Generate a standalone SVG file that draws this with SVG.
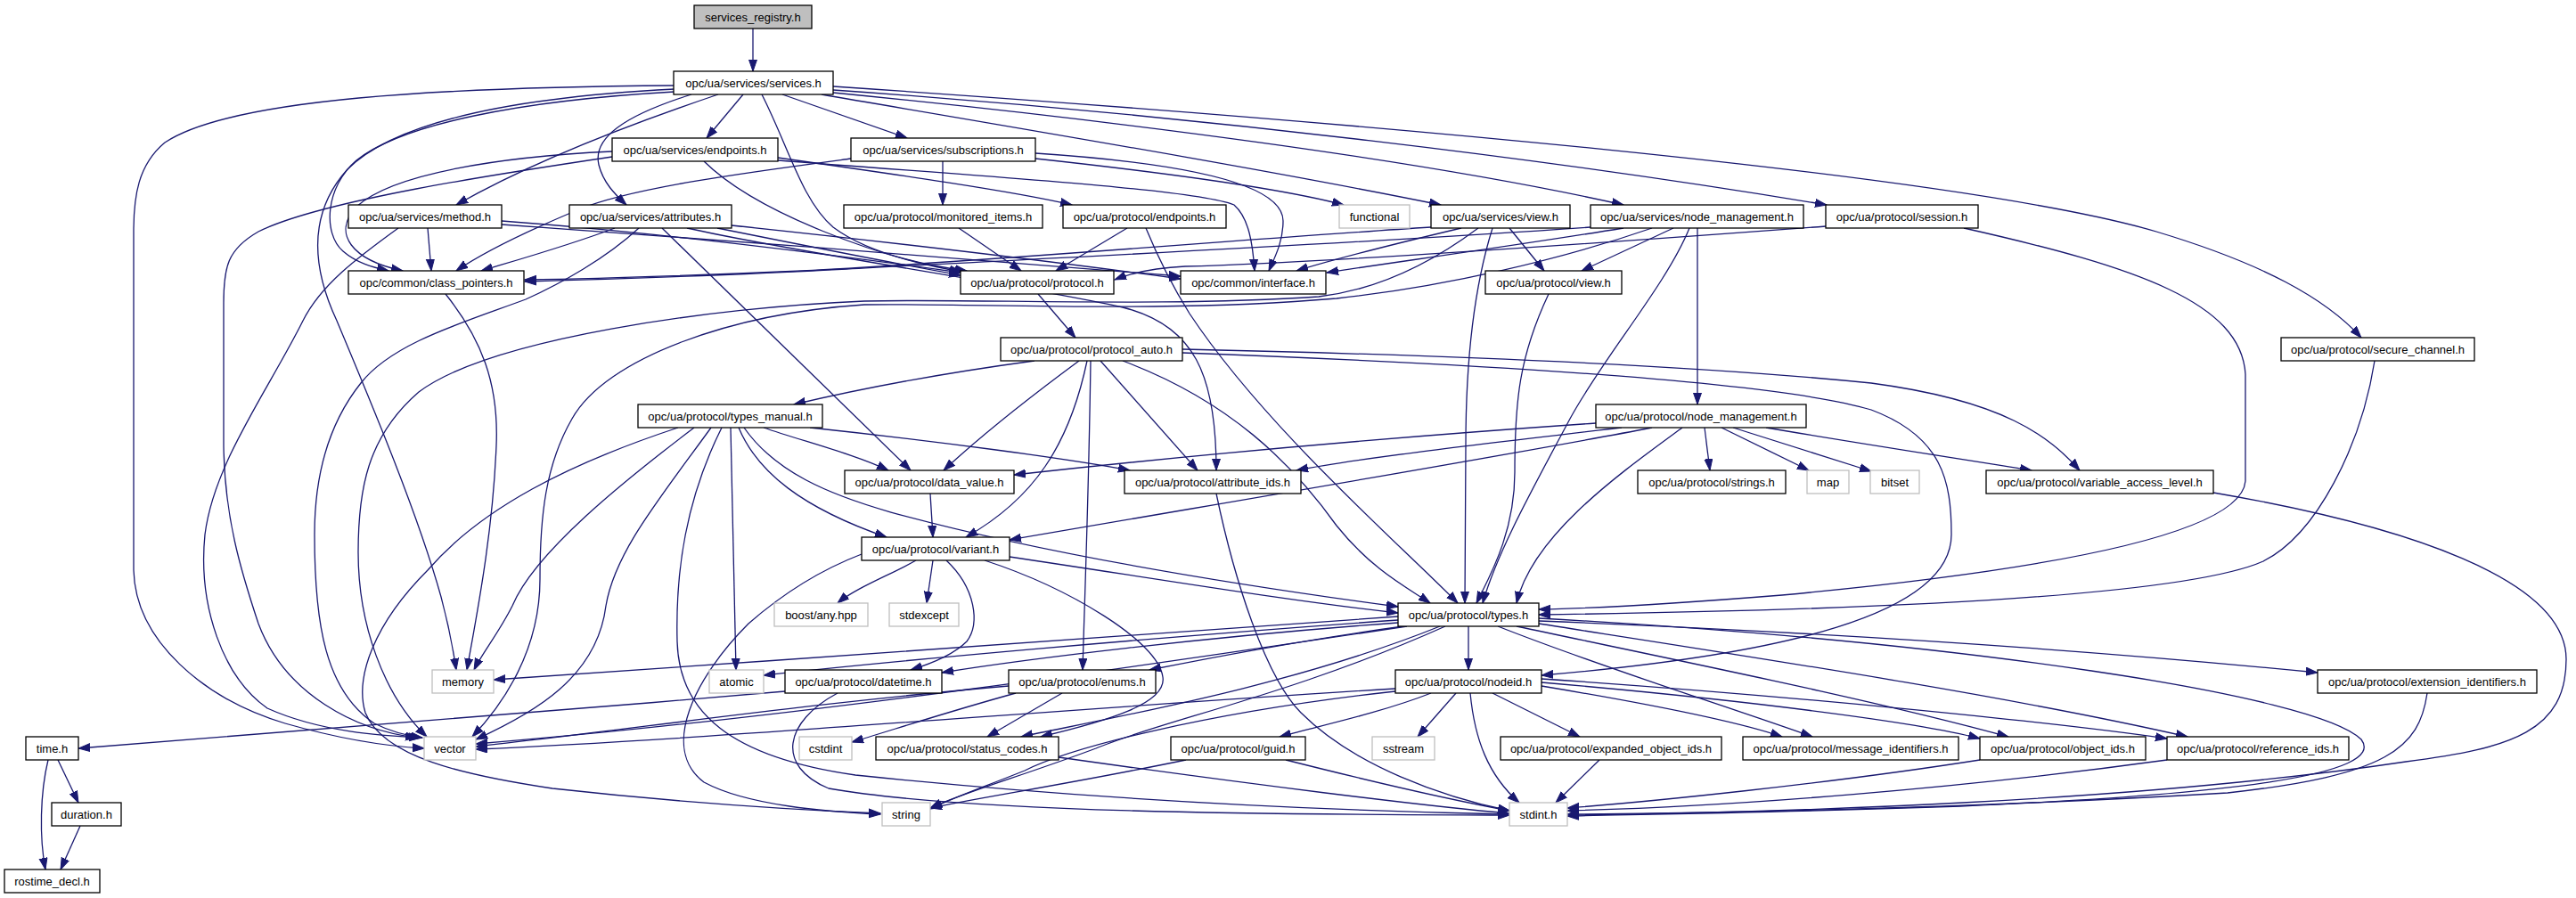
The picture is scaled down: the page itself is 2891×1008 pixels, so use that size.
<svg xmlns="http://www.w3.org/2000/svg" width="2891" height="1008" viewBox="0 0 2891 1008">
<defs>
<style>
.n rect{fill:#fff;stroke:#000;stroke-width:1.3}
.g rect{fill:#fff;stroke:#bfbfbf;stroke-width:1.3}
.r rect{fill:#bfbfbf;stroke:#000;stroke-width:1.3}
text{font-family:"Liberation Sans",Arial,Helvetica,sans-serif;font-size:13px;fill:#000;text-anchor:middle}
#edges path{fill:none;stroke:#191970;stroke-width:1.3;marker-end:url(#a)}
</style>
<marker id="a" markerUnits="userSpaceOnUse" markerWidth="14" markerHeight="11" refX="13" refY="5" orient="auto" viewBox="0 0 14 11"><path d="M0,0.5 L13,5 L0,9.5 z" fill="#191970" stroke="#191970" stroke-width="1"/></marker>
</defs>
<rect width="2891" height="1008" fill="#fff"/>
<g id="edges">
<path d="M845,32 L845,80"/>
<path d="M834,106 L793,155"/>
<path d="M878,106 L1018,155"/>
<path d="M806,106 C720,135 600,180 512,230"/>
<path d="M776,106 C700,130 665,155 672,185 C677,205 690,218 703,230"/>
<path d="M757,103 C580,113 450,140 400,180 C365,210 362,262 385,282 C400,295 418,300 436,304"/>
<path d="M757,100 C560,110 440,140 390,190 C345,240 350,300 378,360 C420,460 470,580 495,670 C503,700 508,725 512,752"/>
<path d="M757,96 C500,98 260,110 185,160 C155,185 150,220 150,260 L150,640 C152,720 230,785 320,812 C390,832 440,838 476,840"/>
<path d="M855,106 C885,165 900,225 935,255 C975,285 1040,298 1085,304"/>
<path d="M922,106 C1150,145 1420,190 1617,230"/>
<path d="M935,104 C1250,135 1600,180 1822,230"/>
<path d="M935,101 C1350,130 1750,180 2050,230"/>
<path d="M935,97 C1500,135 2200,195 2420,260 C2540,296 2610,335 2650,379"/>
<path d="M873,177 C1000,195 1140,215 1203,230"/>
<path d="M687,170 C560,176 440,195 400,232 C372,262 395,292 452,304"/>
<path d="M687,176 C560,195 360,225 290,260 C255,280 251,300 251,340 L251,500 C252,580 270,640 290,700 C320,780 400,820 468,828"/>
<path d="M790,181 C850,240 990,290 1079,305"/>
<path d="M873,180 C1100,198 1340,212 1385,230 C1402,245 1406,275 1408,304"/>
<path d="M1058,181 L1058,230"/>
<path d="M1162,178 C1300,193 1440,212 1508,230"/>
<path d="M955,178 C850,192 710,210 650,235 C590,260 540,285 512,304"/>
<path d="M1162,172 C1360,185 1440,212 1440,248 C1440,272 1430,290 1424,304"/>
<path d="M480,256 L484,304"/>
<path d="M447,256 C400,290 360,320 340,360 C300,440 240,520 230,600 C222,680 250,760 300,795 C360,822 430,826 472,828"/>
<path d="M563,248 C750,262 950,288 1078,306"/>
<path d="M563,252 C800,268 1100,292 1325,310"/>
<path d="M690,256 C640,275 580,292 540,304"/>
<path d="M717,256 C680,290 630,318 590,336 C520,362 440,385 405,430 C365,480 353,540 353,600 C353,700 365,775 420,812 C440,822 458,826 474,828"/>
<path d="M805,256 C900,275 1000,295 1078,309"/>
<path d="M821,253 C1000,272 1200,296 1325,313"/>
<path d="M743,256 L1022,528"/>
<path d="M771,256 C900,285 1150,320 1260,345 C1340,365 1365,420 1365,528"/>
<path d="M1076,256 L1146,304"/>
<path d="M1265,256 L1185,304"/>
<path d="M1286,256 C1300,290 1315,320 1335,352 C1420,480 1570,610 1636,677"/>
<path d="M1640,256 C1560,275 1500,290 1455,304"/>
<path d="M1606,255 C1400,268 1100,294 900,304 C760,310 650,313 589,314"/>
<path d="M1694,256 L1733,304"/>
<path d="M1675,256 C1655,320 1645,400 1645,500 C1645,580 1644,640 1644,677"/>
<path d="M1659,256 C1600,300 1540,326 1480,333 C1300,345 1100,335 970,338 C800,345 550,380 470,440 C412,490 402,550 402,620 C402,700 430,780 479,827"/>
<path d="M1822,256 C1700,276 1560,295 1489,306"/>
<path d="M1785,255 C1500,275 1150,291 950,302 C800,310 660,314 589,316"/>
<path d="M1878,256 L1775,304"/>
<path d="M1896,256 C1870,320 1800,400 1762,470 C1722,545 1680,620 1664,677"/>
<path d="M1905,256 L1905,454"/>
<path d="M1854,256 C1750,292 1620,322 1500,335 C1300,352 1100,340 970,342 C820,352 680,402 642,470 C612,522 606,580 606,650 C606,730 565,790 530,827"/>
<path d="M2049,254 C1700,280 1450,296 1330,299 C1290,301 1266,308 1251,314"/>
<path d="M2204,256 C2400,300 2515,340 2520,420 L2520,540 C2515,600 2300,640 2000,668 C1850,680 1780,683 1727,684"/>
<path d="M500,330 C540,380 560,430 557,500 C553,600 535,690 524,752"/>
<path d="M1165,330 L1207,379"/>
<path d="M1738,330 C1705,400 1700,450 1700,530 C1700,600 1670,650 1657,677"/>
<path d="M1161,405 C1050,420 950,440 891,454"/>
<path d="M1211,405 C1150,450 1100,490 1059,528"/>
<path d="M1220,405 C1200,500 1160,560 1084,603"/>
<path d="M1224,405 C1222,550 1218,650 1215,752"/>
<path d="M1235,405 L1344,528"/>
<path d="M1260,405 C1380,450 1450,520 1500,590 C1540,640 1580,660 1605,677"/>
<path d="M1327,392 C1600,398 1900,410 2100,430 C2250,450 2300,490 2334,528"/>
<path d="M1327,396 C1700,410 2000,430 2100,460 C2180,490 2190,540 2190,600 C2190,690 2000,735 1730,758"/>
<path d="M2665,405 C2650,500 2600,600 2540,630 C2450,670 2100,685 1727,690"/>
<path d="M857,480 C900,495 960,510 997,528"/>
<path d="M909,480 C1050,495 1200,515 1268,528"/>
<path d="M829,480 C850,530 900,570 995,603"/>
<path d="M835,480 C870,530 930,555 1000,575 C1200,630 1450,665 1569,681"/>
<path d="M779,480 C700,540 600,620 575,680 C560,710 540,735 532,752"/>
<path d="M798,480 C740,560 690,620 680,680 C670,760 600,800 534,830"/>
<path d="M820,480 L826,752"/>
<path d="M810,480 C770,560 758,640 760,720 C762,800 820,850 960,870 C1250,900 1500,910 1694,914"/>
<path d="M761,480 C640,520 540,570 480,640 C420,700 398,760 410,800 C430,850 520,870 620,885 C800,905 940,911 988,913"/>
<path d="M1791,475 C1500,495 1300,515 1138,533"/>
<path d="M1820,480 C1650,500 1520,515 1455,528"/>
<path d="M1854,480 C1700,510 1400,560 1133,606"/>
<path d="M1888,480 C1820,530 1720,600 1702,677"/>
<path d="M1913,480 L1919,528"/>
<path d="M1932,480 L2030,528"/>
<path d="M1945,480 L2100,529"/>
<path d="M1982,480 C2100,500 2200,515 2280,528"/>
<path d="M1044,554 L1047,603"/>
<path d="M1365,554 C1385,650 1420,760 1460,800 C1520,860 1620,895 1694,910"/>
<path d="M2484,553 C2700,590 2880,650 2880,740 C2880,820 2820,840 2700,855 C2400,900 2000,912 1759,915"/>
<path d="M1028,629 C1000,645 960,660 940,677"/>
<path d="M1047,629 L1040,677"/>
<path d="M1062,629 C1095,660 1100,700 1085,720 C1070,735 1045,745 1022,752"/>
<path d="M1105,629 C1200,660 1300,720 1305,760 C1310,790 1240,810 1168,827"/>
<path d="M967,622 C920,640 880,665 840,700 C780,760 740,840 790,878 C840,905 930,911 988,914"/>
<path d="M1133,625 C1300,650 1450,675 1569,688"/>
<path d="M1569,692 C1300,710 900,740 554,763"/>
<path d="M1569,696 C1300,715 1000,742 857,758"/>
<path d="M1569,699 C1350,715 1150,740 1057,755"/>
<path d="M1575,703 C1450,720 1350,740 1290,752"/>
<path d="M1579,703 C1300,745 900,805 534,835"/>
<path d="M1616,703 C1450,770 1250,805 1146,827"/>
<path d="M1622,703 C1450,780 1300,810 1230,840 C1150,870 1080,890 1044,907"/>
<path d="M1648,703 L1648,752"/>
<path d="M1727,697 C2100,712 2400,735 2601,755"/>
<path d="M1681,703 C1800,750 1930,790 2034,827"/>
<path d="M1702,703 C1900,745 2100,785 2254,827"/>
<path d="M1727,700 C1950,735 2250,780 2455,827"/>
<path d="M1727,694 C2200,720 2600,780 2650,830 C2680,870 2500,892 2200,905 C2000,912 1850,914 1759,916"/>
<path d="M1132,770 C900,790 700,820 534,838"/>
<path d="M1140,778 C1060,800 1000,820 956,833"/>
<path d="M1192,778 L1108,827"/>
<path d="M1566,773 C1200,795 800,830 534,841"/>
<path d="M1566,776 C1350,800 1200,840 1150,865 C1100,885 1070,895 1044,908"/>
<path d="M1606,778 C1550,800 1480,815 1436,827"/>
<path d="M1634,778 L1591,827"/>
<path d="M1650,778 C1655,830 1670,870 1705,901"/>
<path d="M1675,778 L1773,827"/>
<path d="M1730,770 C1850,790 1950,810 2000,827"/>
<path d="M1730,766 C1950,785 2150,810 2222,829"/>
<path d="M1730,762 C2000,780 2300,810 2432,829"/>
<path d="M881,776 C600,800 300,825 88,840"/>
<path d="M940,778 C880,810 870,860 930,885 C1100,915 1500,914 1694,915"/>
<path d="M65,853 L88,901"/>
<path d="M54,853 C45,890 44,940 51,976"/>
<path d="M90,927 L68,976"/>
<path d="M1188,850 C1400,880 1600,905 1694,913"/>
<path d="M1331,853 C1200,880 1100,895 1044,907"/>
<path d="M1443,853 C1550,880 1640,900 1694,910"/>
<path d="M1795,853 L1746,901"/>
<path d="M2222,853 C2050,880 1850,900 1759,907"/>
<path d="M2432,853 C2200,885 1950,905 1759,910"/>
<path d="M2724,778 C2715,840 2680,870 2500,890 C2200,908 1900,913 1759,914"/>
</g>
<g id="n_services_registry" class="r"><rect x="779" y="6" width="132" height="26"/><text x="845" y="24">services_registry.h</text></g>
<g id="n_services" class="n"><rect x="756" y="80" width="179" height="26"/><text x="845.5" y="98">opc/ua/services/services.h</text></g>
<g id="n_s_endpoints" class="n"><rect x="687" y="155" width="186" height="26"/><text x="780" y="173">opc/ua/services/endpoints.h</text></g>
<g id="n_s_subscriptions" class="n"><rect x="955" y="155" width="207" height="26"/><text x="1058.5" y="173">opc/ua/services/subscriptions.h</text></g>
<g id="n_s_method" class="n"><rect x="391" y="230" width="172" height="26"/><text x="477" y="248">opc/ua/services/method.h</text></g>
<g id="n_s_attributes" class="n"><rect x="639" y="230" width="182" height="26"/><text x="730" y="248">opc/ua/services/attributes.h</text></g>
<g id="n_p_monitored_items" class="n"><rect x="947" y="230" width="223" height="26"/><text x="1058.5" y="248">opc/ua/protocol/monitored_items.h</text></g>
<g id="n_p_endpoints" class="n"><rect x="1193" y="230" width="183" height="26"/><text x="1284.5" y="248">opc/ua/protocol/endpoints.h</text></g>
<g id="n_functional" class="g"><rect x="1503" y="230" width="79" height="26"/><text x="1542.5" y="248">functional</text></g>
<g id="n_s_view" class="n"><rect x="1606" y="230" width="156" height="26"/><text x="1684" y="248">opc/ua/services/view.h</text></g>
<g id="n_s_node_management" class="n"><rect x="1785" y="230" width="239" height="26"/><text x="1904.5" y="248">opc/ua/services/node_management.h</text></g>
<g id="n_p_session" class="n"><rect x="2049" y="230" width="171" height="26"/><text x="2134.5" y="248">opc/ua/protocol/session.h</text></g>
<g id="n_class_pointers" class="n"><rect x="391" y="304" width="197" height="26"/><text x="489.5" y="322">opc/common/class_pointers.h</text></g>
<g id="n_p_protocol" class="n"><rect x="1078" y="304" width="172" height="26"/><text x="1164" y="322">opc/ua/protocol/protocol.h</text></g>
<g id="n_interface" class="n"><rect x="1325" y="304" width="163" height="26"/><text x="1406.5" y="322">opc/common/interface.h</text></g>
<g id="n_p_view" class="n"><rect x="1667" y="304" width="153" height="26"/><text x="1743.5" y="322">opc/ua/protocol/view.h</text></g>
<g id="n_p_protocol_auto" class="n"><rect x="1123" y="379" width="204" height="26"/><text x="1225" y="397">opc/ua/protocol/protocol_auto.h</text></g>
<g id="n_p_secure_channel" class="n"><rect x="2560" y="379" width="217" height="26"/><text x="2668.5" y="397">opc/ua/protocol/secure_channel.h</text></g>
<g id="n_p_types_manual" class="n"><rect x="716" y="454" width="207" height="26"/><text x="819.5" y="472">opc/ua/protocol/types_manual.h</text></g>
<g id="n_p_node_management" class="n"><rect x="1791" y="454" width="236" height="26"/><text x="1909" y="472">opc/ua/protocol/node_management.h</text></g>
<g id="n_p_data_value" class="n"><rect x="948" y="528" width="190" height="26"/><text x="1043" y="546">opc/ua/protocol/data_value.h</text></g>
<g id="n_p_attribute_ids" class="n"><rect x="1262" y="528" width="198" height="26"/><text x="1361" y="546">opc/ua/protocol/attribute_ids.h</text></g>
<g id="n_p_strings" class="n"><rect x="1838" y="528" width="166" height="26"/><text x="1921" y="546">opc/ua/protocol/strings.h</text></g>
<g id="n_map" class="g"><rect x="2028" y="528" width="47" height="26"/><text x="2051.5" y="546">map</text></g>
<g id="n_bitset" class="g"><rect x="2099" y="528" width="55" height="26"/><text x="2126.5" y="546">bitset</text></g>
<g id="n_p_variable_access_level" class="n"><rect x="2229" y="528" width="255" height="26"/><text x="2356.5" y="546">opc/ua/protocol/variable_access_level.h</text></g>
<g id="n_p_variant" class="n"><rect x="967" y="603" width="166" height="26"/><text x="1050" y="621">opc/ua/protocol/variant.h</text></g>
<g id="n_boost_any" class="g"><rect x="869" y="677" width="105" height="26"/><text x="921.5" y="695">boost/any.hpp</text></g>
<g id="n_stdexcept" class="g"><rect x="998" y="677" width="78" height="26"/><text x="1037" y="695">stdexcept</text></g>
<g id="n_p_types" class="n"><rect x="1569" y="677" width="158" height="26"/><text x="1648" y="695">opc/ua/protocol/types.h</text></g>
<g id="n_memory" class="g"><rect x="485" y="752" width="69" height="26"/><text x="519.5" y="770">memory</text></g>
<g id="n_atomic" class="g"><rect x="796" y="752" width="61" height="26"/><text x="826.5" y="770">atomic</text></g>
<g id="n_p_datetime" class="n"><rect x="881" y="752" width="176" height="26"/><text x="969" y="770">opc/ua/protocol/datetime.h</text></g>
<g id="n_p_enums" class="n"><rect x="1132" y="752" width="165" height="26"/><text x="1214.5" y="770">opc/ua/protocol/enums.h</text></g>
<g id="n_p_nodeid" class="n"><rect x="1566" y="752" width="164" height="26"/><text x="1648" y="770">opc/ua/protocol/nodeid.h</text></g>
<g id="n_p_extension_identifiers" class="n"><rect x="2601" y="752" width="246" height="26"/><text x="2724" y="770">opc/ua/protocol/extension_identifiers.h</text></g>
<g id="n_time" class="n"><rect x="29" y="827" width="59" height="26"/><text x="58.5" y="845">time.h</text></g>
<g id="n_vector" class="g"><rect x="476" y="827" width="58" height="26"/><text x="505" y="845">vector</text></g>
<g id="n_cstdint" class="g"><rect x="897" y="827" width="59" height="26"/><text x="926.5" y="845">cstdint</text></g>
<g id="n_p_status_codes" class="n"><rect x="983" y="827" width="205" height="26"/><text x="1085.5" y="845">opc/ua/protocol/status_codes.h</text></g>
<g id="n_p_guid" class="n"><rect x="1314" y="827" width="151" height="26"/><text x="1389.5" y="845">opc/ua/protocol/guid.h</text></g>
<g id="n_sstream" class="g"><rect x="1540" y="827" width="70" height="26"/><text x="1575" y="845">sstream</text></g>
<g id="n_p_expanded_object_ids" class="n"><rect x="1684" y="827" width="248" height="26"/><text x="1808" y="845">opc/ua/protocol/expanded_object_ids.h</text></g>
<g id="n_p_message_identifiers" class="n"><rect x="1956" y="827" width="242" height="26"/><text x="2077" y="845">opc/ua/protocol/message_identifiers.h</text></g>
<g id="n_p_object_ids" class="n"><rect x="2222" y="827" width="186" height="26"/><text x="2315" y="845">opc/ua/protocol/object_ids.h</text></g>
<g id="n_p_reference_ids" class="n"><rect x="2432" y="827" width="204" height="26"/><text x="2534" y="845">opc/ua/protocol/reference_ids.h</text></g>
<g id="n_duration" class="n"><rect x="58" y="901" width="78" height="26"/><text x="97" y="919">duration.h</text></g>
<g id="n_string" class="g"><rect x="990" y="901" width="54" height="26"/><text x="1017" y="919">string</text></g>
<g id="n_stdint" class="g"><rect x="1694" y="901" width="65" height="26"/><text x="1726.5" y="919">stdint.h</text></g>
<g id="n_rostime_decl" class="n"><rect x="5" y="976" width="107" height="26"/><text x="58.5" y="994">rostime_decl.h</text></g>
</svg>
